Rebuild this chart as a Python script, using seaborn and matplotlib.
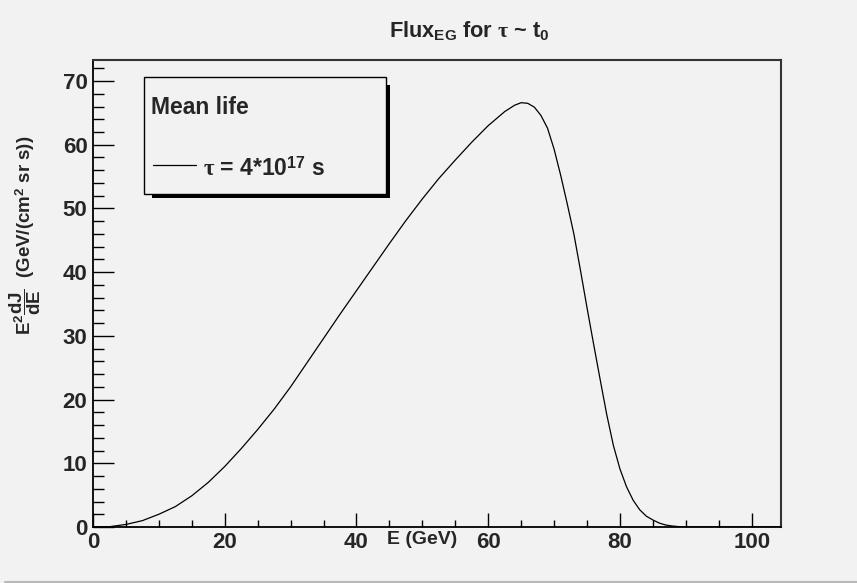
import numpy as np
import pandas as pd
import seaborn as sns
import matplotlib.pyplot as plt
from matplotlib.patches import Rectangle
from matplotlib.lines import Line2D
from matplotlib.ticker import MultipleLocator

# Data
energy = [0, 2.5, 5, 7.5, 10, 12.5, 15, 17.5, 20, 22.5, 25, 27.5, 30, 32.5,
          35, 37.5, 40, 42.5, 45, 47.5, 50, 52.5, 55, 57.5, 60, 62.5, 64, 65,
          66, 67, 68, 69, 70, 71, 72, 73, 74, 75, 76, 77, 78, 79, 80, 81, 82,
          83, 84, 85, 86, 87, 88, 89, 90, 95, 100, 104.4]
flux = [0, 0.05, 0.4, 1.0, 2.0, 3.2, 4.9, 7.0, 9.5, 12.3, 15.3, 18.5, 22.0,
        25.8, 29.6, 33.4, 37.1, 40.8, 44.5, 48.1, 51.5, 54.7, 57.6, 60.4,
        63.0, 65.2, 66.2, 66.6, 66.5, 65.9, 64.6, 62.6, 59.3, 55.2, 50.7,
        46.0, 40.3, 34.4, 28.7, 23.1, 17.6, 12.8, 9.1, 6.3, 4.2, 2.7, 1.7,
        1.1, 0.6, 0.3, 0.15, 0.05, 0.0, 0.0, 0.0, 0.0]
x_ticks = [0, 20, 40, 60, 80, 100]
y_ticks = [0, 10, 20, 30, 40, 50, 60, 70]
legend_title = 'Mean life'
series_label = r'$\tau$ = 4*10$^{\mathrm{17}}$ s'

df = pd.DataFrame({'E': energy, 'flux': flux})

sns.set_style('ticks')
bg = '#f2f2f2'
plt.rcParams['font.family'] = ['Liberation Sans', 'DejaVu Sans']
plt.rcParams['font.weight'] = 'bold'
plt.rcParams['mathtext.fontset'] = 'custom'
plt.rcParams['mathtext.rm'] = 'Liberation Sans:bold'
plt.rcParams['mathtext.bf'] = 'Liberation Sans:bold'
plt.rcParams['mathtext.sf'] = 'Liberation Sans:bold'
plt.rcParams['mathtext.it'] = 'Liberation Serif'

W, H = 857, 583
fig = plt.figure(figsize=(W / 100, H / 100), dpi=100, facecolor=bg)
ax = fig.add_axes([93 / W, 1 - 527 / H, (780.7 - 93) / W, (527 - 60) / H])
ax.set_facecolor(bg)

sns.lineplot(data=df, x='E', y='flux', ax=ax, color='black', linewidth=0.9,
             legend=False)

ax.set_xlim(0, 104.4)
ax.set_ylim(0, 73.3)
ax.set_xticks(x_ticks)
ax.set_yticks(y_ticks)
ax.xaxis.set_minor_locator(MultipleLocator(5))
ax.yaxis.set_minor_locator(MultipleLocator(2))
ax.tick_params(axis='both', which='both', direction='in', top=False,
               right=False, width=1.0, color='black')
ax.tick_params(axis='x', which='major', length=10, pad=3.5, labelsize=16)
ax.tick_params(axis='x', which='minor', length=5)
ax.tick_params(axis='y', which='major', length=15, pad=4, labelsize=16)
ax.tick_params(axis='y', which='minor', length=7.7)
for lab in ax.get_xticklabels() + ax.get_yticklabels():
    lab.set_fontweight('bold')

for side in ['left', 'bottom']:
    ax.spines[side].set_linewidth(1.3)
    ax.spines[side].set_color('black')
for side in ['top', 'right']:
    ax.spines[side].set_linewidth(1.5)
    ax.spines[side].set_color('#333333')

ax.set_xlabel('E (GeV)', fontsize=14, fontweight='bold')
ax.xaxis.set_label_coords(0.478, -0.008)
ax.set_ylabel(r'$\mathrm{E^{2}}\dfrac{\mathrm{dJ}}{\mathrm{dE}}$  (GeV/(cm$^{\mathrm{2}}$ sr s))',
              fontsize=13.5, fontweight='bold')
ax.yaxis.set_label_coords(-0.0727, 0.625)

# title
fig.text(469 / W, 1 - 37 / H, r'Flux$_{\mathrm{EG}}$ for $\tau$ ~ t$_{\mathrm{0}}$',
         ha='center', va='baseline', fontsize=15.7, fontweight='bold')

# legend box with ROOT-like shadow
bx0, bx1, by0, by1 = 144, 386, 76.7, 194.3
fig.patches.append(Rectangle((151.7 / W, 1 - 198.3 / H), (390 - 151.7) / W,
                             (198.3 - 85) / H, transform=fig.transFigure,
                             facecolor='black', edgecolor='none', zorder=5))
fig.patches.append(Rectangle((bx0 / W, 1 - by1 / H), (bx1 - bx0) / W,
                             (by1 - by0) / H, transform=fig.transFigure,
                             facecolor=bg, edgecolor='black', linewidth=1.0,
                             zorder=6))
fig.text(150.7 / W, 1 - 114 / H, legend_title, fontsize=16.5,
         fontweight='bold', va='baseline', ha='left', zorder=7)
fig.add_artist(Line2D([153 / W, 195.7 / W], [1 - 165 / H, 1 - 165 / H],
                      transform=fig.transFigure, color='black', lw=0.9,
                      zorder=7))
fig.text(203.3 / W, 1 - 176 / H, series_label, fontsize=16.5,
         fontweight='bold', va='baseline', ha='left', zorder=7)

# canvas bottom border
fig.add_artist(Line2D([5 / W, 1], [1 - 581.5 / H, 1 - 581.5 / H],
                      transform=fig.transFigure, color='#b8b8b8', lw=1.5))

fig.savefig('out.png', dpi=100, facecolor=bg)
